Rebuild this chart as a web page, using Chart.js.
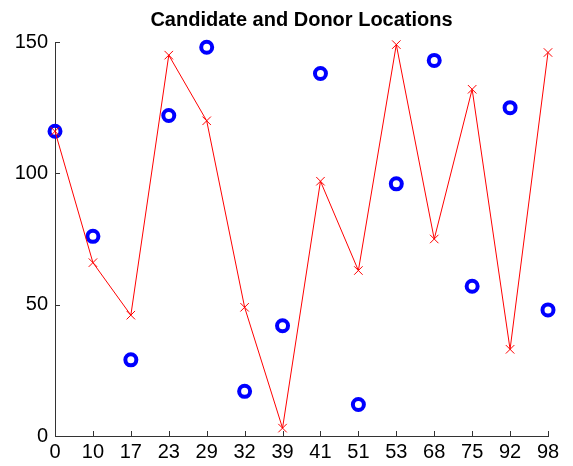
<!DOCTYPE html>
<html>
<head>
<meta charset="utf-8">
<script src="https://cdn.jsdelivr.net/npm/chart.js@4.4.1/dist/chart.umd.min.js"></script>
<style>
  html, body { margin: 0; padding: 0; background: #fff; }
  #wrap { width: 573px; height: 466px; }
</style>
</head>
<body>
<div id="wrap"><canvas id="myChart" width="573" height="466"></canvas></div>
<script>
// x tick labels (evenly spaced positions)
const locations = ["0", "10", "17", "23", "29", "32", "39", "41", "51", "53", "68", "75", "92", "98"];
// red line with x markers
const candidates = [116, 66, 46, 145, 120, 49, 3, 97, 63, 149, 75, 132, 33, 146];
// blue circles
const donors = [116, 76, 29, 122, 148, 17, 42, 138, 12, 96, 143, 57, 125, 48];
const yTicks = [0, 50, 100, 150];

const axisColor = "#333333";
const fontFamily = "'Liberation Sans', Arial, Helvetica, sans-serif";

// MATLAB style ticks that point into the plot
const inwardTicks = {
    id: "inwardTicks",
    afterDraw(chart) {
        const ctx = chart.ctx;
        const xs = chart.scales.x;
        const ys = chart.scales.y;
        ctx.save();
        ctx.strokeStyle = axisColor;
        ctx.lineWidth = 1;
        ctx.beginPath();
        for (let i = 0; i < xs.ticks.length; i++) {
            const px = Math.round(xs.getPixelForTick(i)) + 0.5;
            ctx.moveTo(px, ys.bottom);
            ctx.lineTo(px, ys.bottom - 5);
        }
        for (let i = 0; i < ys.ticks.length; i++) {
            const py = Math.round(ys.getPixelForTick(i)) + 0.5;
            ctx.moveTo(xs.left, py);
            ctx.lineTo(xs.left + 5, py);
        }
        ctx.stroke();
        ctx.restore();
    }
};

const graph = document.getElementById("myChart").getContext("2d");
const myChart = new Chart(graph, {
    type: "line",
    data: {
        labels: locations,
        datasets: [
            {
                label: "Candidates",
                data: candidates,
                borderColor: "#ff0000",
                backgroundColor: "#ff0000",
                borderWidth: 1,
                pointStyle: "crossRot",
                pointRadius: 6,
                pointBorderWidth: 1,
                pointBorderColor: "#ff0000",
                tension: 0,
                clip: false,
            },
            {
                label: "Donors",
                data: donors,
                showLine: false,
                borderColor: "#0000ff",
                backgroundColor: "rgba(0,0,0,0)",
                pointStyle: "circle",
                pointRadius: 5.5,
                pointBorderWidth: 4,
                pointBorderColor: "#0000ff",
                pointBackgroundColor: "rgba(0,0,0,0)",
                clip: false,
            },
        ],
    },
    options: {
        responsive: false,
        animation: false,
        events: [],
        layout: { padding: { left: 0, right: 25, top: 0, bottom: 0 } },
        plugins: {
            legend: { display: false },
            tooltip: { enabled: false },
            title: {
                display: true,
                text: "Candidate and Donor Locations",
                color: "#000",
                fullSize: false,
                font: { family: fontFamily, size: 20, weight: "bold" },
                padding: { top: 8, bottom: 10 },
            },
        },
        scales: {
            x: {
                type: "category",
                offset: false,
                grid: { display: false, drawTicks: false },
                border: { display: true, color: axisColor, width: 1 },
                ticks: {
                    color: "#000",
                    font: { family: fontFamily, size: 20 },
                    padding: 4,
                    maxRotation: 0,
                    autoSkip: false,
                },
                afterFit(scale) { scale.height = 30; },
            },
            y: {
                min: 0,
                max: 150,
                grid: { display: false, drawTicks: false },
                border: { display: true, color: axisColor, width: 1 },
                afterBuildTicks(scale) { scale.ticks = yTicks.map(v => ({ value: v })); },
                ticks: {
                    color: "#000",
                    font: { family: fontFamily, size: 20 },
                    padding: 7,
                },
                afterFit(scale) { scale.width = 55; },
            },
        },
    },
    plugins: [inwardTicks],
});
</script>
</body>
</html>
